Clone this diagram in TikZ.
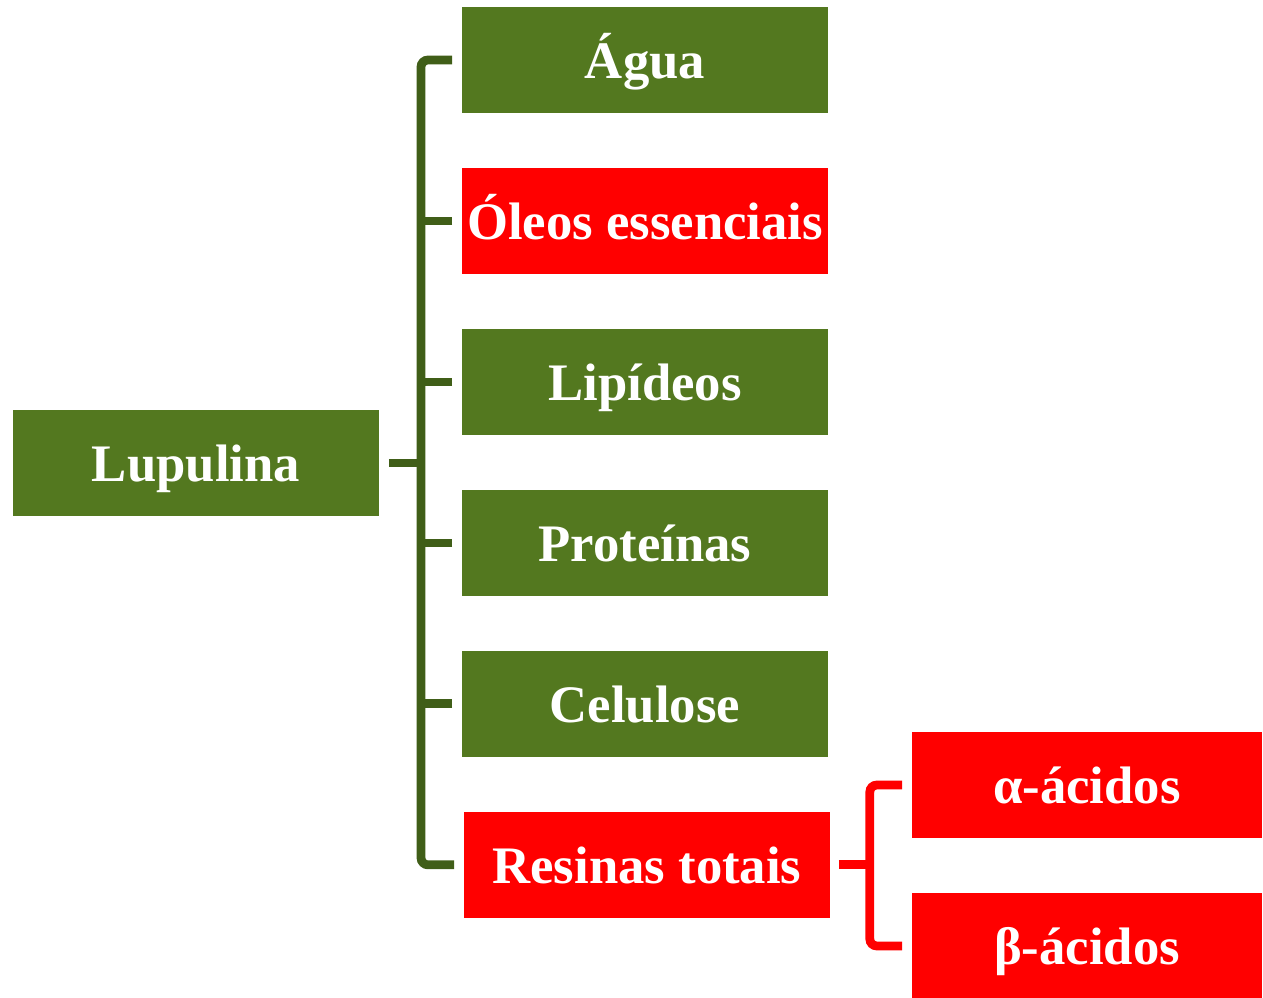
\documentclass[tikz,border=0pt]{standalone}
\usepackage{fontspec}
\setmainfont{Liberation Serif}
\definecolor{boxgreen}{RGB}{83,120,31}
\definecolor{linegreen}{RGB}{64,94,24}
\definecolor{boxred}{RGB}{255,0,0}
\begin{document}
\begin{tikzpicture}[x=0.02cm, y=-0.02cm, node distance=3.22cm,
  box/.style={minimum width=7.34cm, minimum height=2.12cm, inner sep=0pt, text=white, font=\fontsize{30}{36}\selectfont\bfseries, text height=27pt, text depth=6pt},
  gbox/.style={box, fill=boxgreen},
  rbox/.style={box, fill=boxred},
  gline/.style={draw=linegreen, line width=5pt},
  rline/.style={draw=boxred, line width=5pt}]
\useasboundingbox (0,0) rectangle (1263,997);
\node[gbox] (lup) at (196,463) {Lupulina};
\node[gbox] (agua) at (645,60) {Água};
\node[rbox,below of=agua] (oleos) {Óleos essenciais};
\node[gbox,below of=oleos] (lip) {Lipídeos};
\node[gbox,below of=lip] (prot) {Proteínas};
\node[gbox,below of=prot] (cel) {Celulose};
\node[rbox,below of=cel,xshift=0.04cm] (res) {Resinas totais};
\node[rbox,minimum width=7.02cm] (alfa) at (1087,785) {α-ácidos};
\node[rbox,minimum width=7.02cm,below of=alfa] (beta) {β-ácidos};
% chaves
\coordinate (spine) at (421,463);
\draw[gline] ([xshift=0.18cm]lup.east) -- (spine);
\draw[gline,rounded corners=4pt] ([xshift=-0.18cm]agua.west) -| (spine) |- ([xshift=-0.18cm]res.west);
\foreach \n in {oleos,lip,prot,cel} \draw[gline] ([xshift=-0.18cm]\n.west) -- (spine |- \n.west);
\coordinate (rspine) at ([xshift=0.78cm]res.east);
\draw[rline] ([xshift=0.16cm]res.east) -- (rspine);
\draw[rline,rounded corners=4pt] ([xshift=-0.18cm]alfa.west) -| (rspine) |- ([xshift=-0.18cm]beta.west);
\end{tikzpicture}
\end{document}
